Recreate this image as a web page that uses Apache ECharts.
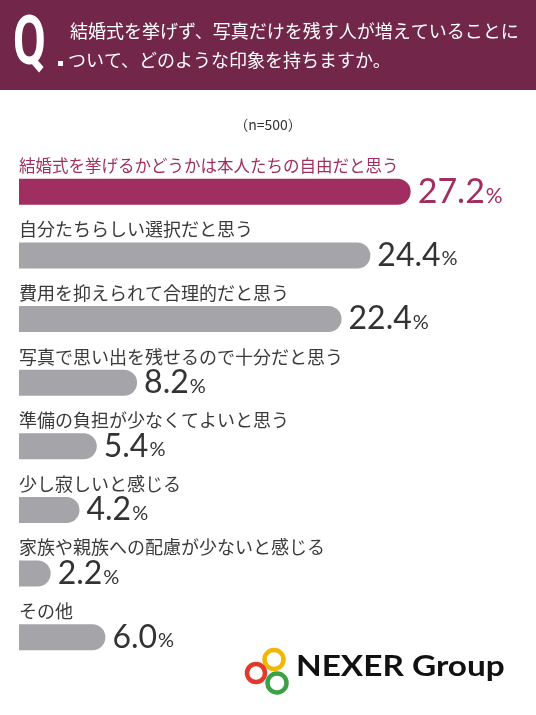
<!DOCTYPE html>
<html>
<head>
<meta charset="utf-8">
<script src="https://cdn.jsdelivr.net/npm/echarts@6/dist/echarts.min.js"></script>
<style>
  html, body { margin: 0; padding: 0; background: #fff; }
  #chart { width: 536px; height: 715px; }
</style>
</head>
<body>
<div id="chart"></div>
<script>
// 回答項目
const categories = [
    '結婚式を挙げるかどうかは本人たちの自由だと思う',
    '自分たちらしい選択だと思う',
    '費用を抑えられて合理的だと思う',
    '写真で思い出を残せるので十分だと思う',
    '準備の負担が少なくてよいと思う',
    '少し寂しいと感じる',
    '家族や親族への配慮が少ないと感じる',
    'その他'
];
// 割合 (%)
const values = [27.2, 24.4, 22.4, 8.2, 5.4, 4.2, 2.2, 6.0];
const titleLines = [
    '結婚式を挙げず、写真だけを残す人が増えていることに',
    'ついて、どのような印象を持ちますか。'
];
const sampleText = '（n=500）';

const MAROON = '#a12e60';
const GRAY = '#a4a4a9';
const JP = '"Noto Sans CJK JP", "Noto Sans", sans-serif';
const NUM = 'Lato, "Noto Sans", sans-serif';

const myChart = echarts.init(document.getElementById('chart'));

let option = {
    backgroundColor: '#fff',
    animation: false,
    grid: {
        left: 19,
        width: 432, // 0〜30%
        top: 160,
        bottom: 46
    },
    xAxis: {
        type: 'value',
        min: 0,
        max: 30,
        show: false
    },
    yAxis: {
        type: 'category',
        data: categories,
        inverse: true,
        show: false
    },
    series: [
        {
            // 項目名（バーの上）
            type: 'bar',
            barWidth: 26,
            barGap: '-100%',
            silent: true,
            itemStyle: { color: 'transparent' },
            data: values.map(() => 0.001),
            label: {
                show: true,
                position: [0, -13],
                verticalAlign: 'middle',
                formatter: (p) => p.name,
                fontFamily: JP,
                fontSize: 18,
                color: '#3a3a3a',
                rich: {
                    a: { fontFamily: JP, fontSize: 16.5, color: MAROON }
                }
            },
            z: 1
        },
        {
            type: 'bar',
            barWidth: 26,
            barGap: '-100%',
            data: values.map((v, i) => ({
                value: v,
                itemStyle: { color: i === 0 ? MAROON : GRAY }
            })),
            itemStyle: {
                borderRadius: [0, 13, 13, 0]
            },
            label: {
                show: true,
                position: 'right',
                distance: 7,
                formatter: (p) => (p.dataIndex === 0 ? '{va|' : '{v|') + p.value.toFixed(1) + '}' + (p.dataIndex === 0 ? '{pa|%}' : '{p|%}'),
                rich: {
                    v: { fontFamily: NUM, fontSize: 32, color: '#333', padding: [0, 1, 0, 0] },
                    p: { fontFamily: NUM, fontSize: 20, color: '#333', padding: [7, 0, 0, 0] },
                    va: { fontFamily: NUM, fontSize: 34, color: MAROON, padding: [0, 1, 0, 0] },
                    pa: { fontFamily: NUM, fontSize: 21, color: MAROON, padding: [8, 0, 0, 0] }
                }
            },
            z: 2
        }
    ],
    graphic: [
        // ヘッダー
        { type: 'rect', left: 0, top: 0, shape: { width: 536, height: 90 }, style: { fill: '#722649' } },
        {
            type: 'text', x: 13, y: 12, scaleX: 0.72, scaleY: 1.05,
            style: { text: 'Q', fill: '#fff', font: 'bold 66px Roboto, sans-serif' }
        },
        { type: 'rect', left: 58, top: 61, shape: { width: 5, height: 5 }, style: { fill: '#fff' } },
        {
            type: 'text', left: 70, top: 22,
            style: { text: titleLines[0], fill: '#fff', font: '18px ' + JP }
        },
        {
            type: 'text', left: 68, top: 51,
            style: { text: titleLines[1], fill: '#fff', font: '18px ' + JP }
        },
        {
            type: 'text', left: 'center', top: 118,
            style: { text: sampleText, fill: '#333', font: '14px ' + JP }
        },
        // ロゴ
        { type: 'circle', shape: { cx: 274, cy: 659.5, r: 9.5 }, style: { fill: 'none', stroke: '#f2b705', lineWidth: 4.5 } },
        { type: 'circle', shape: { cx: 256, cy: 673, r: 9 }, style: { fill: 'none', stroke: '#e2392d', lineWidth: 4.5 } },
        { type: 'circle', shape: { cx: 277, cy: 683, r: 9.5 }, style: { fill: 'none', stroke: '#3aa244', lineWidth: 4.5 } },
        {
            type: 'text', x: 296, y: 652, scaleX: 1.15,
            style: { text: 'NEXER Group', fill: '#111', font: 'bold 29px ' + NUM }
        }
    ]
};

// 1行目だけマルーン色
option.series[0].data[0] = {
    value: 0.001,
    label: { formatter: '{a|' + categories[0] + '}' }
};

myChart.setOption(option);
</script>
</body>
</html>
